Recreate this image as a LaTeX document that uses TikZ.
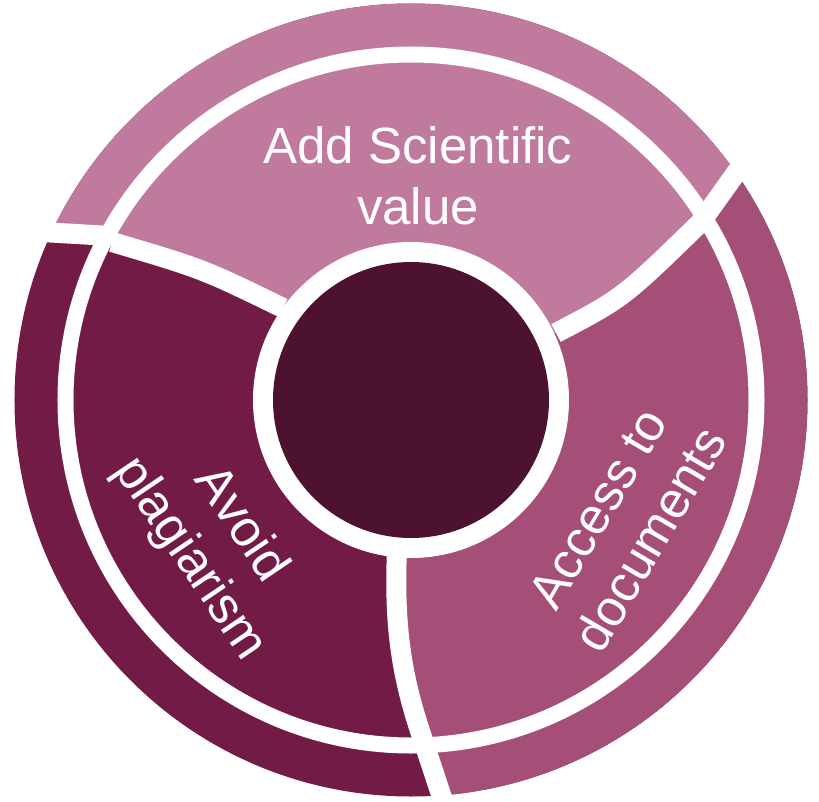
\documentclass[tikz,border=0pt]{standalone}
\usepackage{fontspec}
\setmainfont{Liberation Sans}
\definecolor{topclr}{RGB}{192,122,158}
\definecolor{rightclr}{RGB}{165,78,120}
\definecolor{leftclr}{RGB}{115,27,71}
\definecolor{coreclr}{RGB}{78,18,49}

\begin{document}
\begin{tikzpicture}[x=1pt,y=1pt,
  gap/.style={draw=white,line width=20pt},
  lbl/.style={text=white,align=center,font=\fontsize{51}{61}\selectfont}
]
\useasboundingbox (-411,-401) rectangle (408,400);

\fill[leftclr] (0,0) circle (396.5);
\begin{scope}
\clip (0,0) circle (396.5);
\fill[topclr] (0,0) -- (-128,92) .. controls (-208,131) .. (-299,158) -- (-340,166) -- (-450,172)
  -- (-450,450) -- (450,450) -- (380,304) -- (290,178) .. controls (212,102) .. (145,67) -- cycle;
\fill[rightclr] (0,0) -- (145,67) .. controls (212,102) .. (290,178) -- (380,304) -- (450,304)
  -- (450,-450) -- (45,-440) -- (13,-343) .. controls (-5,-290) and (-18,-240) .. (-14,-150) -- cycle;
\end{scope}

% gaps between the pieces
\draw[white,line width=16pt] (0,0) circle (345.5);
\draw[gap] (-128,92) .. controls (-208,131) .. (-299,158);
\draw[gap] (145,67) .. controls (212,102) .. (290,178);
\draw[gap] (-14,-150) .. controls (-18,-240) and (-5,-290) .. (13,-343);
\draw[gap] (-301,164) -- (-420,171);
\draw[gap] (290,178) -- (380,304);
\draw[gap] (13,-343) -- (45,-440);

\fill[white] (0,0) circle (158);
\node[circle,fill=coreclr,minimum size=276pt,inner sep=0pt] (core) at (0,0) {};

\node[lbl] (value) at (7,224) {Add Scientific\\value};
\node[lbl,rotate=-56] (avoid) at (-196,-142) {Avoid\\plagiarism};
\node[lbl,rotate=59.5] (access) at (213,-124) {Access to\\documents};
\end{tikzpicture}
\end{document}
